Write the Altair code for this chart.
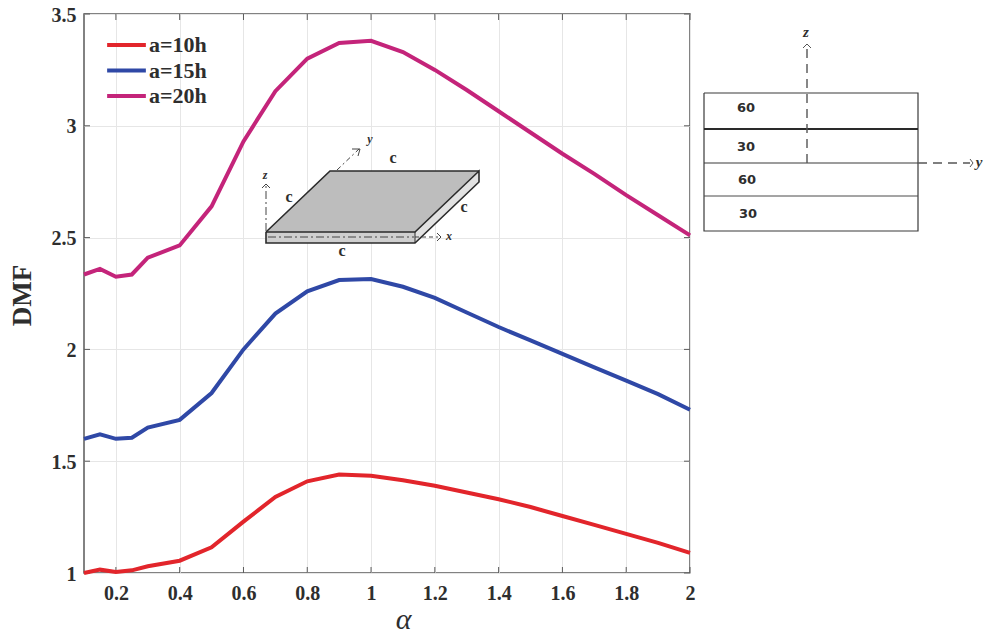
import altair as alt
import pandas as pd

alpha = [0.1,0.15,0.2,0.25,0.3,0.4,0.5,0.6,0.7,0.8,0.9,1.0,1.1,1.2,1.3,1.4,1.5,1.6,1.7,1.8,1.9,2.0]
a10 = [1.0,1.015,1.005,1.012,1.03,1.055,1.115,1.23,1.34,1.41,1.44,1.435,1.415,1.39,1.36,1.33,1.295,1.255,1.215,1.175,1.135,1.09]
a15 = [1.60,1.62,1.60,1.605,1.65,1.685,1.805,2.0,2.16,2.26,2.31,2.315,2.28,2.23,2.165,2.10,2.04,1.98,1.92,1.86,1.80,1.73]
a20 = [2.335,2.36,2.325,2.335,2.41,2.465,2.64,2.93,3.155,3.30,3.37,3.38,3.33,3.25,3.16,3.065,2.97,2.875,2.785,2.69,2.60,2.51]
series_names = ["a=10h", "a=15h", "a=20h"]
series_colors = ["#e2252b", "#2f48a6", "#c4247a"]
x_ticks = [0.2,0.4,0.6,0.8,1.0,1.2,1.4,1.6,1.8,2.0]
y_ticks = [1,1.5,2,2.5,3,3.5]

W, H = 606, 559
OX, OY = 84, 14
SERIF = "Liberation Serif"
GRID = "#e6e6e6"
FRAME = "#5a5a5a"
TEXT = "#2e2e2e"

df = pd.concat([
    pd.DataFrame({"alpha": alpha, "DMF": v, "series": n})
    for v, n in zip([a10, a15, a20], series_names)
])

x_scale = alt.Scale(domain=[0.1, 2], nice=False, zero=False)
y_scale = alt.Scale(domain=[1, 3.5], nice=False, zero=False)

lines = alt.Chart(df).mark_line(strokeWidth=4, clip=False).encode(
    x=alt.X("alpha:Q", scale=x_scale, axis=alt.Axis(
        values=x_ticks, title="α", grid=True, gridColor=GRID, domain=False, ticks=False,
        labelFont=SERIF, labelFontWeight="bold", labelFontSize=20, labelColor=TEXT,
        labelPadding=10, labelExpr="format(datum.value, '.1~f')", labelFlush=False,
        titleFont=SERIF, titleFontStyle="italic", titleFontWeight="normal", titleFontSize=30,
        titleColor=TEXT, titleX=319, titleY=55, titleBaseline="alphabetic")),
    y=alt.Y("DMF:Q", scale=y_scale, axis=alt.Axis(
        values=y_ticks, title="DMF", grid=True, gridColor=GRID, domain=False, ticks=False,
        labelFont=SERIF, labelFontWeight="bold", labelFontSize=20, labelColor=TEXT,
        labelPadding=8, labelOffset=1, labelExpr="format(datum.value, '~g')", labelFlush=False,
        titleFont=SERIF, titleFontWeight="bold", titleFontSize=27,
        titleColor=TEXT, titleX=-62, titleY=281, titleBaseline="middle")),
    color=alt.Color("series:N", scale=alt.Scale(domain=series_names, range=series_colors),
        legend=alt.Legend(orient="none", legendX=17, legendY=15, title=None, symbolType="stroke",
            symbolSize=1500, symbolStrokeWidth=4, labelFont=SERIF, labelFontWeight="bold",
            labelFontSize=22, labelColor=TEXT, clipHeight=24, rowPadding=1.5, labelOffset=1, padding=4)),
)

def tick_rules():
    xd = pd.DataFrame({"t": x_ticks})
    yd = pd.DataFrame({"t": y_ticks})
    rule = dict(color=FRAME, strokeWidth=1)
    return [
        alt.Chart(xd).mark_rule(**rule).encode(x=alt.X("t:Q", scale=x_scale), y=alt.value(H), y2=alt.value(H-6)),
        alt.Chart(xd).mark_rule(**rule).encode(x=alt.X("t:Q", scale=x_scale), y=alt.value(0), y2=alt.value(6)),
        alt.Chart(yd).mark_rule(**rule).encode(y=alt.Y("t:Q", scale=y_scale), x=alt.value(0), x2=alt.value(6)),
        alt.Chart(yd).mark_rule(**rule).encode(y=alt.Y("t:Q", scale=y_scale), x=alt.value(W), x2=alt.value(W-6)),
    ]

# Schematics: positions are page pixels, drawn with identity scales
px = lambda: alt.X("x:Q", scale=None, axis=None)
py = lambda: alt.Y("y:Q", scale=None, axis=None)

def path(points, color="#333333", width=1.0, dash=None):
    d = pd.DataFrame({"x": [p[0]-OX for p in points], "y": [p[1]-OY for p in points], "o": range(len(points))})
    kw = dict(color=color, strokeWidth=width)
    if dash: kw["strokeDash"] = dash
    return alt.Chart(d).mark_line(**kw).encode(x=px(), y=py(), order="o:Q")

def label(x, y, s, font=SERIF, size=16, weight="bold", style="normal", color=TEXT):
    d = pd.DataFrame({"x": [x-OX], "y": [y-OY], "s": [s]})
    return alt.Chart(d).mark_text(font=font, fontSize=size, fontWeight=weight, fontStyle=style,
                                  color=color, align="center", baseline="middle").encode(x=px(), y=py(), text="s:N")

def poly_h(rows, color):
    d = pd.DataFrame({"y": [r[0]-OY for r in rows], "x": [r[1]-OX for r in rows], "x2": [r[2]-OX for r in rows]})
    return alt.Chart(d).mark_area(color=color, orient="horizontal", opacity=1).encode(
        y=py(), x=px(), x2="x2:Q")

def poly_v(cols, color):
    d = pd.DataFrame({"x": [c[0]-OX for c in cols], "y": [c[1]-OY for c in cols], "y2": [c[2]-OY for c in cols]})
    return alt.Chart(d).mark_area(color=color, orient="vertical", opacity=1).encode(
        x=px(), y=py(), y2="y2:Q")

plate = [
    poly_h([(171, 330, 479), (232, 266, 415)], "#bdbdbd"),
    poly_h([(232, 266, 415), (243, 266, 415)], "#cfcfcf"),
    poly_v([(415, 232, 243), (479, 171, 182)], "#e2e2e2"),
    path([(266,232),(330,171),(479,171)], "#2b2b2b", 1.6),
    path([(266,232),(415,232),(479,171),(479,182),(415,243),(266,243),(266,232)], "#2b2b2b", 1.6),
    path([(415,232),(415,243)], "#2b2b2b", 1),
    path([(268,237),(414,237)], "#444444", 1, [8,3,2,3]),
    path([(415,237),(438,237)], "#444444", 1, [4,3]),
    path([(437,233),(441,237),(437,241)], "#444444", 1),
    path([(266,231),(266,186)], "#444444", 1, [8,3,2,3]),
    path([(262,188),(266,184),(270,188)], "#444444", 1),
    path([(337,170),(359,149)], "#444444", 1, [5,3,2,3]),
    path([(352,149),(360,149),(358,156)], "#444444", 1),
    label(449, 236, "x", size=12, style="italic"),
    label(370, 139, "y", size=12, style="italic"),
    label(265, 175, "z", size=12, style="italic"),
    label(393, 158, "c"), label(289, 197, "c"), label(464, 207, "c"), label(342, 251, "c"),
]

sans = "DejaVu Sans"
section = [
    path([(704,93),(918,93),(918,231),(704,231),(704,93)], "#3a3a3a", 1.2),
    path([(704,129),(918,129)], "#2a2a2a", 1.8),
    path([(704,163),(918,163)], "#3a3a3a", 1.2),
    path([(704,196),(918,196)], "#4a4a4a", 1),
    path([(807,163),(807,48)], "#555555", 1.4, [9,6]),
    path([(803,48),(807,44),(811,48)], "#555555", 1),
    path([(918,163),(970,163)], "#555555", 1.4, [9,6]),
    path([(970,159),(973,163),(970,167)], "#555555", 1),
    label(806, 32, "z", size=15, style="italic"),
    label(979, 162, "y", size=15, style="italic"),
    label(746, 108, "60", font=sans, size=13),
    label(746, 147, "30", font=sans, size=13),
    label(747, 180, "60", font=sans, size=13),
    label(748, 214, "30", font=sans, size=13),
]

chart = alt.layer(*tick_rules(), lines, *plate, *section).properties(
    width=W, height=H, autosize="none",
    padding={"left": OX-8, "top": OY-8, "right": 977-(OX-8)-W, "bottom": 621-(OY-8)-H},
).configure_view(stroke=FRAME, strokeWidth=1.5)

chart.save("out.html", embed_options={"renderer": "svg", "actions": False})
